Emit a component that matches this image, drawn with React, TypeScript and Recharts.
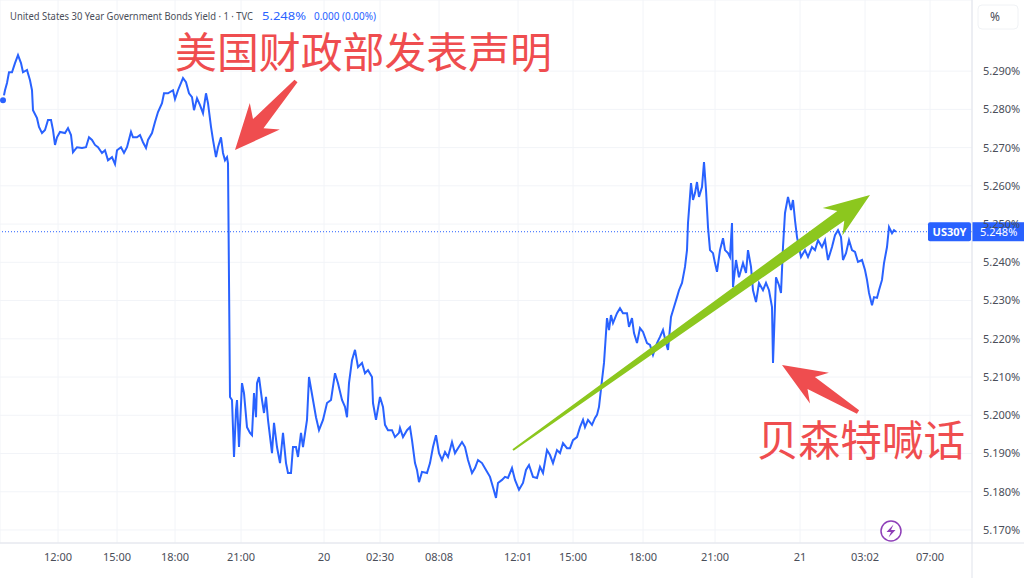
import React from 'react'
import { LineChart, Line, XAxis, YAxis, CartesianGrid, ReferenceLine } from 'recharts'

// [bar, yield %] — session before the Treasury statement
const beforeStatement: [number, number][] = [
  [3, 5.2824], [5, 5.285], [7, 5.2869], [9, 5.2897], [12, 5.2897], [15, 5.2921], [18, 5.2942],
  [21, 5.2921], [23, 5.2897], [27, 5.2903], [30, 5.2876], [32, 5.285], [33, 5.2798], [37, 5.2777],
  [39, 5.2754], [42, 5.2738], [45, 5.2746], [48, 5.2772], [51, 5.2772], [53, 5.2746], [55, 5.2707],
  [57, 5.2727], [60, 5.2741], [65, 5.2738], [68, 5.2751], [71, 5.2733], [73, 5.2688], [77, 5.2701],
  [82, 5.2699], [86, 5.2701], [89, 5.2727], [92, 5.272], [95, 5.2707], [98, 5.2701], [102, 5.2686],
  [105, 5.2693], [108, 5.2667], [112, 5.2675], [115, 5.2657], [117, 5.2693], [121, 5.2701],
  [124, 5.2686], [127, 5.2701], [131, 5.2741], [133, 5.2727], [137, 5.2727], [140, 5.2733],
  [143, 5.2714], [146, 5.2699], [148, 5.272], [152, 5.2738], [155, 5.2767], [158, 5.2793],
  [162, 5.2816], [164, 5.2842], [168, 5.2842], [173, 5.285], [175, 5.2827], [178, 5.285],
  [183, 5.2882], [186, 5.2871], [189, 5.2842], [192, 5.2832], [194, 5.2798], [197, 5.2829],
  [200, 5.2811], [203, 5.279], [206, 5.2842], [208, 5.2816], [211, 5.2754], [213, 5.272],
  [216, 5.2675], [218, 5.2701], [221, 5.2727], [223, 5.2686], [225, 5.2667], [227, 5.2675],
  [228, 5.2659],
]

// drop and the drift lower through the night
const afterStatement: [number, number][] = [
  [230, 5.2048], [232, 5.204], [234, 5.1891], [236, 5.2014], [237, 5.204], [239, 5.1917],
  [242, 5.2084], [244, 5.2058], [247, 5.1969], [250, 5.1954], [252, 5.1948], [254, 5.2058],
  [256, 5.1995], [257, 5.2084], [259, 5.21], [262, 5.204], [264, 5.2006], [266, 5.2048],
  [268, 5.1988], [272, 5.1901], [274, 5.198], [277, 5.1917], [280, 5.1875], [283, 5.1954],
  [286, 5.1875], [288, 5.1849], [291, 5.1849], [293, 5.1917], [296, 5.1917], [298, 5.1891],
  [301, 5.1954], [303, 5.1917], [307, 5.1988], [309, 5.21], [313, 5.204], [316, 5.1995],
  [319, 5.1961], [323, 5.1988], [327, 5.2032], [331, 5.204], [335, 5.211], [338, 5.2084],
  [342, 5.204], [345, 5.2022], [347, 5.1995], [349, 5.2084], [352, 5.2144], [355, 5.2171],
  [358, 5.2126], [362, 5.2137], [365, 5.211], [368, 5.2118], [372, 5.21], [373, 5.2032],
  [376, 5.1988], [380, 5.2048], [383, 5.2022], [385, 5.1975], [388, 5.1961], [392, 5.1961],
  [395, 5.1943], [399, 5.1954], [400, 5.1967], [403, 5.1943], [407, 5.1961], [410, 5.1969],
  [412, 5.1935], [415, 5.1875], [417, 5.1857], [419, 5.1825], [422, 5.1852], [427, 5.1849],
  [430, 5.1875], [433, 5.1917], [436, 5.1948], [439, 5.1901], [442, 5.1883], [445, 5.1904],
  [448, 5.1891], [452, 5.193], [455, 5.1901], [458, 5.1914], [462, 5.193], [465, 5.1917],
  [468, 5.1883], [472, 5.1849], [475, 5.1862], [478, 5.1883], [482, 5.1875], [486, 5.1857],
  [490, 5.1839], [493, 5.1812], [496, 5.1784], [498, 5.1823], [502, 5.1831], [505, 5.1839],
  [508, 5.1836], [512, 5.1862], [515, 5.1831], [519, 5.1805], [523, 5.1823], [526, 5.1857],
  [529, 5.187], [533, 5.1839], [537, 5.1836], [540, 5.1865], [543, 5.1849], [547, 5.1909],
  [550, 5.1896], [553, 5.1875], [557, 5.1909], [560, 5.1901], [563, 5.1927], [567, 5.1914],
  [570, 5.1914], [573, 5.1935], [577, 5.1943], [580, 5.1969], [583, 5.1988], [585, 5.1969],
  [588, 5.1988], [592, 5.1975], [595, 5.1993], [597, 5.2001], [599, 5.2022],
]

// rebound into the 21st
const rebound: [number, number][] = [
  [602, 5.2092], [604, 5.2137], [607, 5.2254], [609, 5.2223], [611, 5.2262], [613, 5.2241],
  [617, 5.2267], [620, 5.228], [623, 5.2267], [627, 5.2267], [629, 5.2231], [632, 5.2254],
  [634, 5.2215], [637, 5.2189], [640, 5.2228], [643, 5.2218], [647, 5.2189], [650, 5.2184],
  [653, 5.2158], [657, 5.2189], [660, 5.2205], [663, 5.2223], [666, 5.2189], [668, 5.2171],
  [671, 5.2257], [674, 5.2283], [677, 5.2309], [679, 5.2327], [682, 5.2346], [685, 5.2388],
  [687, 5.2432], [688, 5.2503], [691, 5.2607], [693, 5.2563], [695, 5.2581], [697, 5.261],
  [699, 5.2571], [702, 5.2597], [704, 5.2662], [706, 5.2589], [708, 5.2492], [710, 5.2432],
  [713, 5.2424], [715, 5.2398], [717, 5.2375], [720, 5.2432], [723, 5.2463], [725, 5.2432],
  [728, 5.2424], [730, 5.2414], [732, 5.2503], [733, 5.2335], [736, 5.2406], [739, 5.2361],
  [743, 5.2398], [746, 5.2372], [748, 5.2432], [751, 5.2388], [753, 5.2327], [756, 5.2296],
  [759, 5.2346], [763, 5.2327], [766, 5.2346], [769, 5.2327], [772, 5.2283], [773, 5.2137],
  [776, 5.2361], [779, 5.234], [781, 5.232], [783, 5.244], [785, 5.2529], [788, 5.2571],
  [791, 5.2537], [793, 5.2563], [795, 5.251], [797, 5.2466], [801, 5.2414], [805, 5.2432],
  [808, 5.2414], [812, 5.244], [815, 5.2432], [818, 5.2458], [822, 5.244], [825, 5.2458],
  [828, 5.2406], [832, 5.244], [835, 5.2471], [838, 5.2484], [841, 5.2466], [843, 5.2406],
  [846, 5.2424], [849, 5.2458], [852, 5.2432], [855, 5.2427], [858, 5.2401], [862, 5.2406],
  [865, 5.238], [867, 5.2354], [869, 5.232], [872, 5.2288], [874, 5.2309], [877, 5.2307],
  [879, 5.2327], [882, 5.2354], [884, 5.2398], [887, 5.244], [889, 5.2492], [892, 5.2476],
  [894, 5.2484], [896, 5.248],
]

const tickBars = [58, 117, 175, 241, 324, 380, 439, 518, 573, 643, 715, 800, 865, 930]
const tickLabels = ['12:00', '15:00', '18:00', '21:00', '20', '02:30', '08:08', '12:01', '15:00', '18:00', '21:00', '21', '03:02', '07:00']
const yieldTicks = [5.17, 5.18, 5.19, 5.2, 5.21, 5.22, 5.23, 5.24, 5.25, 5.26, 5.27, 5.28, 5.29]
const lastYield = 5.248
const change = '0.000 (0.00%)'

const data = [...beforeStatement, ...afterStatement, ...rebound].map(([bar, y]) => ({ bar, yield: y }))

const BLUE = '#2962ff'
const RED = '#ef4d4f'
const GREEN = '#8cc71e'
const TEXT = '#4a4e59'
const FONT = '"Noto Sans", "DejaVu Sans", sans-serif'
const CJK = '"Noto Sans CJK SC", sans-serif'

// tapered annotation arrow, built as a polygon from tail to tip
function arrowPoints(tail: number[], tip: number[], headLen: number, headHalf: number, neckHalf: number, tailHalf: number) {
  const dx = tip[0] - tail[0]
  const dy = tip[1] - tail[1]
  const len = Math.hypot(dx, dy)
  const ux = dx / len
  const uy = dy / len
  const px = -uy
  const py = ux
  const at = (along: number, side: number) => [tip[0] - ux * along + px * side, tip[1] - uy * along + py * side]
  const pts = [
    tip,
    at(headLen, headHalf),
    at(headLen * 0.78, neckHalf),
    [tail[0] + px * tailHalf, tail[1] + py * tailHalf],
    [tail[0] - px * tailHalf, tail[1] - py * tailHalf],
    at(headLen * 0.78, -neckHalf),
    at(headLen, -headHalf),
  ]
  return pts.map((p) => p.map((v) => v.toFixed(1)).join(',')).join(' ')
}

function PriceTag(props: any) {
  const vb = props.viewBox || {}
  const right = vb.x + vb.width
  const y = vb.y
  return (
    <g>
      <rect x={right - 44} y={y - 9.5} width={43} height={19} rx={2} fill={BLUE} />
      <text x={right - 22.5} y={y + 4} textAnchor="middle" fill="#fff" fontSize={11} fontWeight={700} fontFamily={FONT}>US30Y</text>
      <rect x={right} y={y - 9.5} width={52} height={19} fill={BLUE} />
      <text x={right + 8} y={y + 4} fill="#fff" fontSize={11} fontFamily={FONT}>{lastYield.toFixed(3)}%</text>
    </g>
  )
}

export default function App() {
  return (
    <div style={{ position: 'absolute', left: 0, top: 0, width: 1024, height: 578, background: '#fff', overflow: 'hidden' }}>
      <LineChart width={1024} height={578} data={data} margin={{ top: 0, right: 0, bottom: 0, left: 0 }}>
        <CartesianGrid stroke="#f2f4f8" />
        <XAxis
          dataKey="bar"
          type="number"
          domain={[0, 972]}
          ticks={tickBars}
          allowDataOverflow
          height={35}
          tickLine={false}
          axisLine={{ stroke: '#e0e3eb' }}
          tickMargin={4}
          tick={{ fill: TEXT, fontSize: 11, fontFamily: FONT }}
          tickFormatter={(v: number) => tickLabels[tickBars.indexOf(v)] ?? ''}
        />
        <YAxis
          orientation="right"
          type="number"
          domain={[5.1666, 5.3086]}
          ticks={yieldTicks}
          allowDataOverflow
          width={52}
          tickLine={false}
          axisLine={{ stroke: '#e0e3eb' }}
          tickMargin={5}
          tick={{ fill: TEXT, fontSize: 11, fontFamily: FONT }}
          tickFormatter={(v: number) => v.toFixed(3) + '%'}
        />
        <ReferenceLine y={lastYield} stroke={BLUE} strokeDasharray="1 2" strokeWidth={1} label={(p: any) => <PriceTag {...p} />} />
        <Line type="linear" dataKey="yield" stroke={BLUE} strokeWidth={2} dot={false} isAnimationActive={false} />
      </LineChart>

      <svg width={1024} height={578} style={{ position: 'absolute', left: 0, top: 0, pointerEvents: 'none' }}>
        <line x1={972} y1={543} x2={972} y2={578} stroke="#e0e3eb" />
        <line x1={972} y1={543} x2={1024} y2={543} stroke="#e0e3eb" />
        <rect x={978} y={5} width={40} height={24} rx={4} fill="#fff" stroke="#f0f2f5" />
        <text x={990} y={21} fill={TEXT} fontSize={12} fontFamily={FONT}>%</text>

        {/* symbol header: name, last value and change */}
        <text y={20} fontSize={11.5} fontFamily={FONT} lengthAdjust="spacingAndGlyphs">
          <tspan x={10} fill={TEXT} textLength={243} lengthAdjust="spacingAndGlyphs">United States 30 Year Government Bonds Yield · 1 · TVC</tspan>
          <tspan x={262} fill={BLUE} textLength={44} lengthAdjust="spacingAndGlyphs">{lastYield.toFixed(3)}%</tspan>
          <tspan x={314} fill={BLUE} textLength={62} lengthAdjust="spacingAndGlyphs">{change}</tspan>
        </text>

        <text x={175} y={68} fontSize={42} fontFamily={CJK} fill={RED} textLength={377} lengthAdjust="spacingAndGlyphs">美国财政部发表声明</text>
        <polygon points={arrowPoints([296, 81], [235, 150], 45, 20, 7, 2)} fill={RED} />

        <polygon points={arrowPoints([513, 450], [870, 195], 46, 17, 6, 1)} fill={GREEN} />

        <polygon points={arrowPoints([858, 412], [782, 365], 44, 18, 7, 2)} fill={RED} />
        <text x={757} y={456} fontSize={42} fontFamily={CJK} fill={RED} textLength={208} lengthAdjust="spacingAndGlyphs">贝森特喊话</text>

        <circle cx={891} cy={531} r={10} fill="#fff" stroke="#8e3fb8" strokeWidth={1.5} />
        <path d="M893.5 524.5 L886.5 532 L891 532 L888.5 537.5 L895.5 530 L891 530 Z" fill="#8e3fb8" />
      </svg>
    </div>
  )
}
